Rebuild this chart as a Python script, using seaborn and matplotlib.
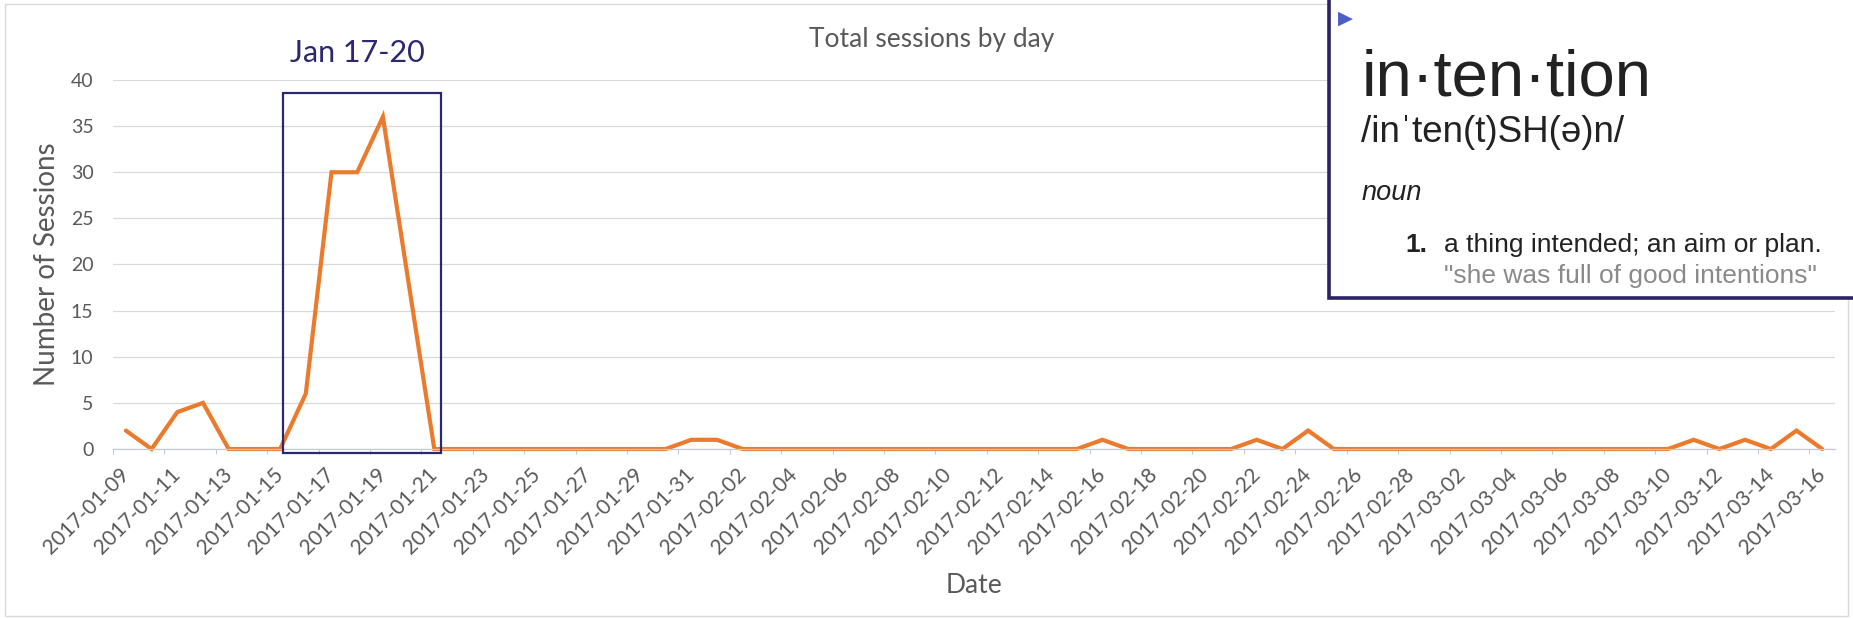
import matplotlib
matplotlib.use("Agg")
import matplotlib.pyplot as plt
from matplotlib.patches import Rectangle
import seaborn as sns
import pandas as pd
import numpy as np

# daily categories, 2017-01-09 .. 2017-03-16
dates = pd.date_range("2017-01-09", "2017-03-16", freq="D").strftime("%Y-%m-%d").tolist()

sessions = [
    2, 0, 4, 5, 0, 0, 0, 6, 30, 30, 36, 18, 0,      # Jan 09 - Jan 21
    0, 0, 0, 0, 0, 0, 0, 0, 0,                      # Jan 22 - Jan 30
    1, 1,                                           # Jan 31 - Feb 01
    0, 0, 0, 0, 0, 0, 0, 0, 0, 0, 0, 0, 0, 0,       # Feb 02 - Feb 15
    1,                                              # Feb 16
    0, 0, 0, 0, 0,                                  # Feb 17 - Feb 21
    1, 0, 2,                                        # Feb 22 - Feb 24
    0, 0, 0, 0, 0, 0, 0, 0, 0, 0, 0, 0, 0, 0,       # Feb 25 - Mar 10
    1, 0, 1, 0, 2, 0,                               # Mar 11 - Mar 16
]

highlight_from = "2017-01-15"
highlight_to = "2017-01-21"
highlight_label = "Jan 17-20"

title = "Total sessions by day"
x_label = "Date"
y_label = "Number of Sessions"

df = pd.DataFrame({"Date": dates, "Sessions": sessions})
df["Day"] = np.arange(len(df))

sns.set_theme(style="white")
plt.rcParams["font.family"] = ["Lato", "DejaVu Sans"]

ORANGE = "#EB7A2C"
NAVY = "#2b2770"
GREY_TXT = "#595959"

fig = plt.figure(figsize=(18.53, 6.19), dpi=100)
ax = fig.add_axes([0.061, 0.2746, 0.9293, 0.5962])

sns.lineplot(data=df, x="Day", y="Sessions", color=ORANGE, linewidth=3.0, ax=ax)
for ln in ax.lines:
    ln.set_clip_on(False)
    ln.set_solid_joinstyle("miter")

n = len(df)
ax.set_xlim(-0.5, n - 0.5)
ax.set_ylim(0, 40)
ax.set_yticks(range(0, 41, 5))
ax.set_xticks(df["Day"][::2])
ax.set_xticklabels(df["Date"][::2], rotation=45, ha="right", va="center",
                   rotation_mode="anchor")
ax.set_xticks(np.arange(-0.5, n - 1, 2), minor=True)

ax.tick_params(axis="x", which="major", length=0, pad=16, labelsize=15,
               labelcolor=GREY_TXT)
ax.tick_params(axis="x", which="minor", bottom=True, length=3.6, width=0.8,
               color="#c4c9d4")
ax.tick_params(axis="y", length=0, pad=14, labelsize=14, labelcolor=GREY_TXT)

ax.grid(axis="y", color="#d9d9d9", linewidth=0.9)
ax.grid(axis="x", visible=False)
for side in ["top", "right", "left"]:
    ax.spines[side].set_visible(False)
ax.spines["bottom"].set_color("#c4c9d4")
ax.spines["bottom"].set_linewidth(0.9)

ax.set_xlabel(x_label, fontsize=19, color=GREY_TXT)
ax.set_ylabel(y_label, fontsize=20, color=GREY_TXT)
ax.xaxis.set_label_coords(0.5, -0.335)
ax.yaxis.set_label_coords(-0.031, 0.5)

# highlight box around the spike
i0 = dates.index(highlight_from)
i1 = dates.index(highlight_to)
ax.add_patch(Rectangle((i0 + 0.1, -0.45), (i1 + 0.26) - (i0 + 0.1), 39.05,
                       fill=False, edgecolor=NAVY, linewidth=1.6,
                       clip_on=False, zorder=4))
fig.text(0.1927, 0.915, highlight_label, ha="center", va="center",
         fontsize=22, color=NAVY)

fig.text(0.503, 0.936, title, ha="center", va="center", fontsize=19,
         color=GREY_TXT)

# light chart border
fig.patches.append(Rectangle((0.0027, 0.005), 0.9946, 0.9885,
                             transform=fig.transFigure, fill=False,
                             edgecolor="#d9d9d9", linewidth=1))

# dictionary card in the top right
fig.patches.append(Rectangle((0.7172, 0.5186), 0.4, 0.6,
                             transform=fig.transFigure, facecolor="white",
                             edgecolor="#2a2466", linewidth=2.6, zorder=5))
dict_font = ["Liberation Sans", "DejaVu Sans"]
W, H = 1853, 619


def fx(px):
    return px / W


def fy(py):
    return 1 - py / H


fig.text(fx(1338), fy(18), "\u25B6", ha="left", va="center", fontsize=14,
         color="#4a5fc4", family=["DejaVu Sans"], zorder=6)
fig.text(fx(1362), fy(95), "in\u00b7ten\u00b7tion", ha="left", va="baseline",
         fontsize=47, color="#222222", family=dict_font, zorder=6)
fig.text(fx(1361), fy(142), "/in\u02c8ten(t)SH(\u0259)n/", ha="left",
         va="baseline", fontsize=26.5, color="#222222", family=dict_font, zorder=6)
fig.text(fx(1362), fy(200), "noun", ha="left", va="baseline", fontsize=19.5,
         style="italic", color="#222222", family=dict_font, zorder=6)
fig.text(fx(1405), fy(252), "1.", ha="left", va="baseline", fontsize=19,
         weight="bold", color="#222222", family=dict_font, zorder=6)
fig.text(fx(1444), fy(252), "a thing intended; an aim or plan.", ha="left",
         va="baseline", fontsize=19, color="#222222", family=dict_font, zorder=6)
fig.text(fx(1444), fy(283), "\"she was full of good intentions\"", ha="left",
         va="baseline", fontsize=19, color="#8a8a8a", family=dict_font, zorder=6)

fig.savefig("out.png", dpi=100)
